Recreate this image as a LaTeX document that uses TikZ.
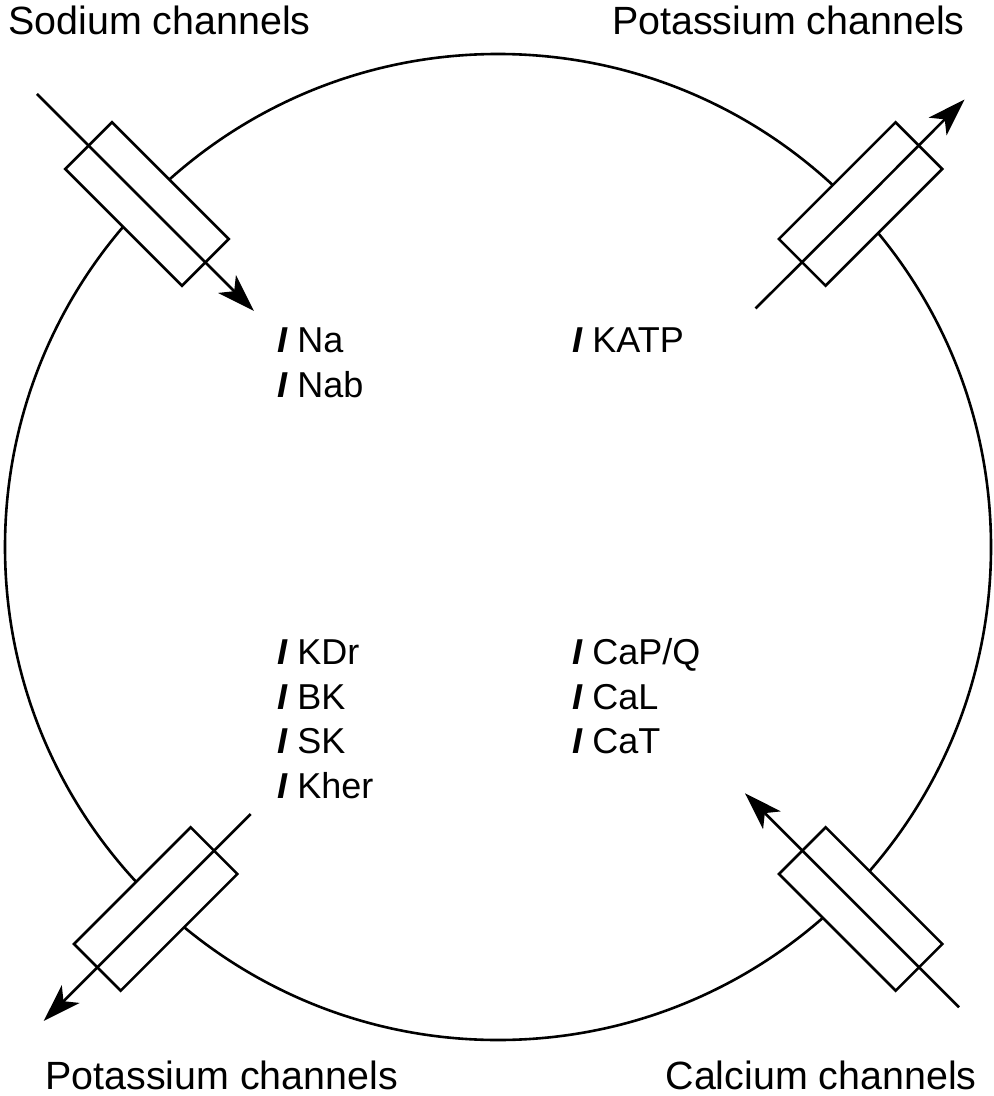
\documentclass[tikz,border=0pt]{standalone}
\usepackage{fontspec}
\setmainfont{Liberation Sans}
\usetikzlibrary{arrows.meta}
\begin{document}
\begin{tikzpicture}[x=0.5pt,y=-0.5pt,
  membrane/.style={draw, line width=1.3pt},
  channel/.style={draw, line width=1.3pt, fill=white, rectangle, inner sep=0pt, outer sep=0pt, minimum width=82.5pt, minimum height=33pt},
  flux/.style={line width=1.3pt, -{Stealth[length=19pt,width=12.5pt,inset=5pt]}},
  title/.style={font=\fontsize{19.7}{24}\selectfont, inner sep=0pt, anchor=base west},
  current/.style={font=\fontsize{18}{22}\selectfont, inner sep=0pt, anchor=base west}]
\useasboundingbox (0,0) rectangle (993,1096);
% cell membrane
\node[membrane, circle, minimum size=493pt, inner sep=0pt] (cell) at (498,547) {};
% channels
\node[channel, rotate=-45] (na) at (147,204) {};
\node[channel, rotate=45] (kt) at (860.5,204) {};
\node[channel, rotate=45] (kb) at (155.7,909) {};
\node[channel, rotate=-45] (ca) at (860.7,909) {};
% arrow end points
\coordinate (naS) at (37,94);
\coordinate (naE) at (254,311);
\coordinate (ktS) at (755.5,308.5);
\coordinate (ktE) at (964.5,99.5);
\coordinate (kbS) at (250.7,814);
\coordinate (kbE) at (43.7,1021);
\coordinate (caS) at (959,1007.3);
\coordinate (caE) at (745,793.3);
\draw[flux] (naS) -- (na.center) -- (naE);
\draw[flux] (ktS) -- (kt.center) -- (ktE);
\draw[flux] (kbS) -- (kb.center) -- (kbE);
\draw[flux] (caS) -- (ca.center) -- (caE);
% titles
\node[title] (tna) at (8,35) {Sodium channels};
\node[title, anchor=base east] (tkt) at (965,35) {Potassium channels};
\node[title] (tkb) at (45,1089) {Potassium channels};
\node[title, anchor=base east] (tca) at (977,1089) {Calcium channels};
% currents
\node[current] (lna) at (277,352) {{\bfseries\itshape I} Na};
\node[current] (lnab) at (277,397) {{\bfseries\itshape I} Nab};
\node[current] (lkatp) at (572,352) {{\bfseries\itshape I} KATP};
\node[current] (lkdr) at (277,664) {{\bfseries\itshape I} KDr};
\node[current] (lbk) at (277,709) {{\bfseries\itshape I} BK};
\node[current] (lsk) at (277,753) {{\bfseries\itshape I} SK};
\node[current] (lkher) at (277,798) {{\bfseries\itshape I} Kher};
\node[current] (lcapq) at (572,664) {{\bfseries\itshape I} CaP/Q};
\node[current] (lcal) at (572,709) {{\bfseries\itshape I} CaL};
\node[current] (lcat) at (572,753) {{\bfseries\itshape I} CaT};
\end{tikzpicture}
\end{document}
